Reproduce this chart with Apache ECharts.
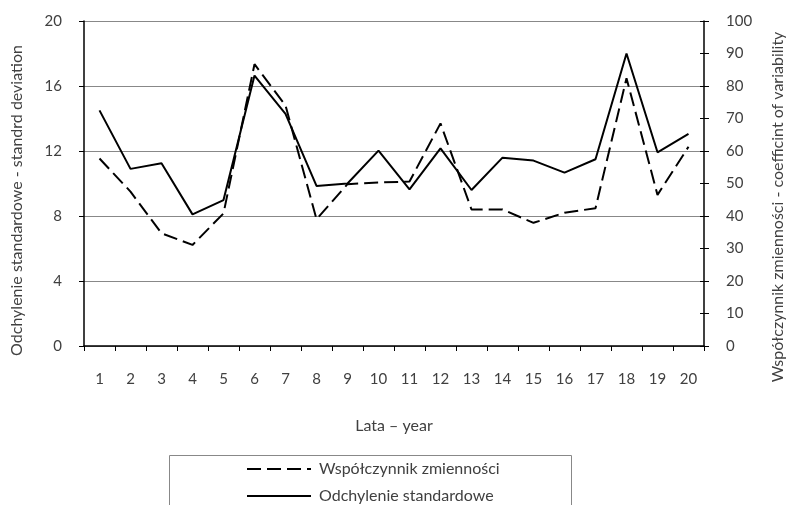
<!DOCTYPE html>
<html>
<head>
<meta charset="utf-8">
<script src="https://cdn.jsdelivr.net/npm/echarts@6/dist/echarts.min.js"></script>
<style>html,body{margin:0;padding:0;background:#fff}#c{width:788px;height:505px}</style>
</head>
<body>
<div id="c"></div>
<script>
const years = ['1','2','3','4','5','6','7','8','9','10','11','12','13','14','15','16','17','18','19','20'];
const coefVariation = [57.7, 47.5, 34.7, 31.1, 40.8, 86.7, 74, 39, 49.8, 50.3, 50.6, 68.5, 42, 42, 37.9, 41, 42.4, 82.4, 46.5, 61.3];
const stdDeviation = [14.5, 10.9, 11.24, 8.1, 8.98, 16.64, 14.28, 9.85, 10.0, 12.02, 9.64, 12.16, 9.6, 11.59, 11.41, 10.67, 11.49, 18.0, 11.92, 13.05];
const leftTicks = {min: 0, max: 20, interval: 4};
const rightTicks = {min: 0, max: 100, interval: 10};
const seriesNames = ['Współczynnik zmienności', 'Odchylenie standardowe'];
const axisNames = {x: 'Lata – year', left: 'Odchylenie standardowe - standrd deviation', right: 'Współczynnik zmienności - coefficint of variability'};

const FONT = 'Lato';
const FS = 15;
const FT = 16;
const TXT = '#404040';
const chart = echarts.init(document.getElementById('c'), null, {renderer: 'canvas'});
chart.setOption({
  animation: false,
  backgroundColor: '#fff',
  textStyle: {fontFamily: FONT},
  grid: {left: 84, right: 84, top: 21, bottom: 159, outerBoundsMode: 'none', containLabel: false},
  graphic: [{
    type: 'rect', silent: true,
    shape: {x: 169.5, y: 455.5, width: 402, height: 80},
    style: {fill: 'none', stroke: '#888', lineWidth: 1}
  }],
  legend: {
    orient: 'vertical', left: 246, top: 461, padding: 0,
    itemWidth: 64, itemHeight: 14, itemGap: 11,
    itemStyle: {opacity: 0},
    textStyle: {fontFamily: FONT, fontSize: FT, color: TXT, padding: [0, 0, 0, 3]},
    data: seriesNames
  },
  xAxis: {
    type: 'category', data: years, boundaryGap: true,
    name: axisNames.x, nameLocation: 'middle', nameGap: 72,
    nameTextStyle: {fontFamily: FONT, fontSize: FT, color: TXT},
    axisLine: {lineStyle: {color: '#000', width: 1.5}},
    axisTick: {show: true, inside: false, length: 5, alignWithLabel: false, lineStyle: {color: '#000'}},
    axisLabel: {margin: 26, fontFamily: FONT, fontSize: FS, color: TXT},
    splitLine: {show: false}
  },
  yAxis: [{
    type: 'value', position: 'left', min: leftTicks.min, max: leftTicks.max, interval: leftTicks.interval,
    name: axisNames.left, nameLocation: 'middle', nameGap: 59, nameRotate: 90,
    nameTextStyle: {fontFamily: FONT, fontSize: FT, color: TXT, padding: [0, 34, 0, 0]},
    axisLine: {show: true, lineStyle: {color: '#000', width: 1.5}},
    axisTick: {show: true, length: 5, lineStyle: {color: '#000'}},
    axisLabel: {margin: 22, fontFamily: FONT, fontSize: FS, color: TXT},
    splitLine: {show: true, lineStyle: {color: '#888', width: 1}}
  }, {
    type: 'value', position: 'right', min: rightTicks.min, max: rightTicks.max, interval: rightTicks.interval,
    name: axisNames.right, nameLocation: 'middle', nameGap: 66, nameRotate: 90,
    nameTextStyle: {fontFamily: FONT, fontSize: FT, color: TXT, padding: [0, 47, 0, 0]},
    axisLine: {show: true, lineStyle: {color: '#000', width: 1.5}},
    axisTick: {show: true, length: 5, lineStyle: {color: '#000'}},
    axisLabel: {margin: 22, fontFamily: FONT, fontSize: FS, color: TXT},
    splitLine: {show: false}
  }, {
    type: 'value', position: 'right', min: rightTicks.min, max: rightTicks.max, interval: rightTicks.interval,
    axisLine: {show: false},
    axisTick: {show: true, inside: true, length: 4, lineStyle: {color: '#000'}},
    axisLabel: {show: false},
    splitLine: {show: false}
  }],
  series: [{
    name: seriesNames[0], type: 'line', yAxisIndex: 1, data: coefVariation,
    symbol: 'none', smooth: false,
    lineStyle: {color: '#000', width: 2, type: [14, 6]},
    itemStyle: {color: '#000'}
  }, {
    name: seriesNames[1], type: 'line', yAxisIndex: 0, data: stdDeviation,
    symbol: 'none', smooth: false,
    lineStyle: {color: '#000', width: 2, type: 'solid'},
    itemStyle: {color: '#000'}
  }]
});
</script>
</body>
</html>
